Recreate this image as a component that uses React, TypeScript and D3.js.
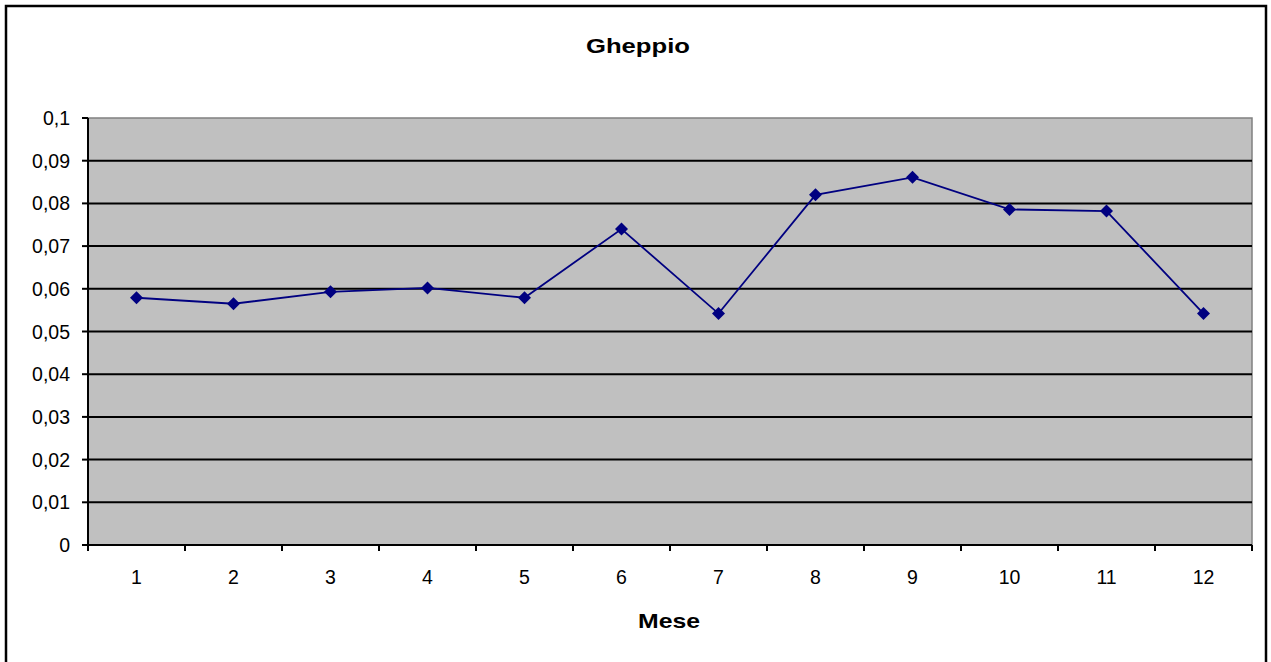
import React from "react";
import * as d3 from "d3";

const title = "Gheppio";
const xTitle = "Mese";
const months = ["1", "2", "3", "4", "5", "6", "7", "8", "9", "10", "11", "12"];
const values = [0.0579, 0.0565, 0.0593, 0.0602, 0.0579, 0.074, 0.0542, 0.082, 0.0861, 0.0786, 0.0782, 0.0542];
const yTicks = [0, 0.01, 0.02, 0.03, 0.04, 0.05, 0.06, 0.07, 0.08, 0.09, 0.1];

const W = 1271;
const H = 662;
const plot = { left: 88, right: 1252, top: 118, bottom: 545 };
const FONT = "'Liberation Sans', Arial, sans-serif";

export default function App() {
  const x = d3.scaleBand().domain(months).range([plot.left, plot.right]).paddingInner(0).paddingOuter(0);
  const y = d3.scaleLinear().domain([0, 0.1]).range([plot.bottom, plot.top]);
  const fmt = (v: number) => (v === 0 ? "0" : d3.format(".2~f")(v).replace(".", ","));
  const line = d3
    .line<number>()
    .x((_, i) => (x(months[i]) as number) + x.bandwidth() / 2)
    .y((d) => y(d));
  const boundaries = months.map((m) => x(m) as number).concat([plot.right]);
  const diamond = "M0,-6.5L6.5,0L0,6.5L-6.5,0Z";

  return (
    <div style={{ position: "absolute", left: 0, top: 0 }}>
      <svg width={W} height={H} style={{ display: "block" }}>
        <rect x={0} y={0} width={W} height={H} fill="#ffffff" />
        <rect x={6} y={6} width={1260} height={680} fill="none" stroke="#000" strokeWidth={2.5} />
        <text x={638} y={53} textAnchor="middle" fontFamily={FONT} fontWeight="bold" fontSize={21} textLength={104} lengthAdjust="spacingAndGlyphs">
          {title}
        </text>
        <rect x={plot.left} y={plot.top} width={plot.right - plot.left} height={plot.bottom - plot.top} fill="#c0c0c0" stroke="#808080" strokeWidth={1.5} />
        {yTicks.slice(1, -1).map((t) => (
          <line key={"g" + t} x1={plot.left} x2={plot.right} y1={y(t)} y2={y(t)} stroke="#000" strokeWidth={2} />
        ))}
        {/* y axis */}
        <line x1={plot.left} x2={plot.left} y1={plot.top} y2={plot.bottom} stroke="#000" strokeWidth={2} />
        {yTicks.map((t) => (
          <g key={"y" + t}>
            <line x1={plot.left - 6} x2={plot.left} y1={y(t)} y2={y(t)} stroke="#000" strokeWidth={2} />
            <text x={70} y={y(t) + 7} textAnchor="end" fontFamily={FONT} fontSize={19.5}>
              {fmt(t)}
            </text>
          </g>
        ))}
        {/* x axis */}
        <line x1={plot.left} x2={plot.right} y1={plot.bottom} y2={plot.bottom} stroke="#000" strokeWidth={2} />
        {boundaries.map((b, i) => (
          <line key={"xt" + i} x1={b} x2={b} y1={plot.bottom} y2={plot.bottom + 6} stroke="#000" strokeWidth={2} />
        ))}
        {months.map((m) => (
          <text key={"xl" + m} x={(x(m) as number) + x.bandwidth() / 2} y={584} textAnchor="middle" fontFamily={FONT} fontSize={19.5}>
            {m}
          </text>
        ))}
        <text x={669} y={628} textAnchor="middle" fontFamily={FONT} fontWeight="bold" fontSize={21} textLength={62} lengthAdjust="spacingAndGlyphs">
          {xTitle}
        </text>
        <path d={line(values) || ""} fill="none" stroke="#000080" strokeWidth={1.8} />
        {values.map((v, i) => (
          <path
            key={"p" + i}
            d={diamond}
            transform={`translate(${(x(months[i]) as number) + x.bandwidth() / 2},${y(v)})`}
            fill="#000080"
          />
        ))}
      </svg>
    </div>
  );
}
